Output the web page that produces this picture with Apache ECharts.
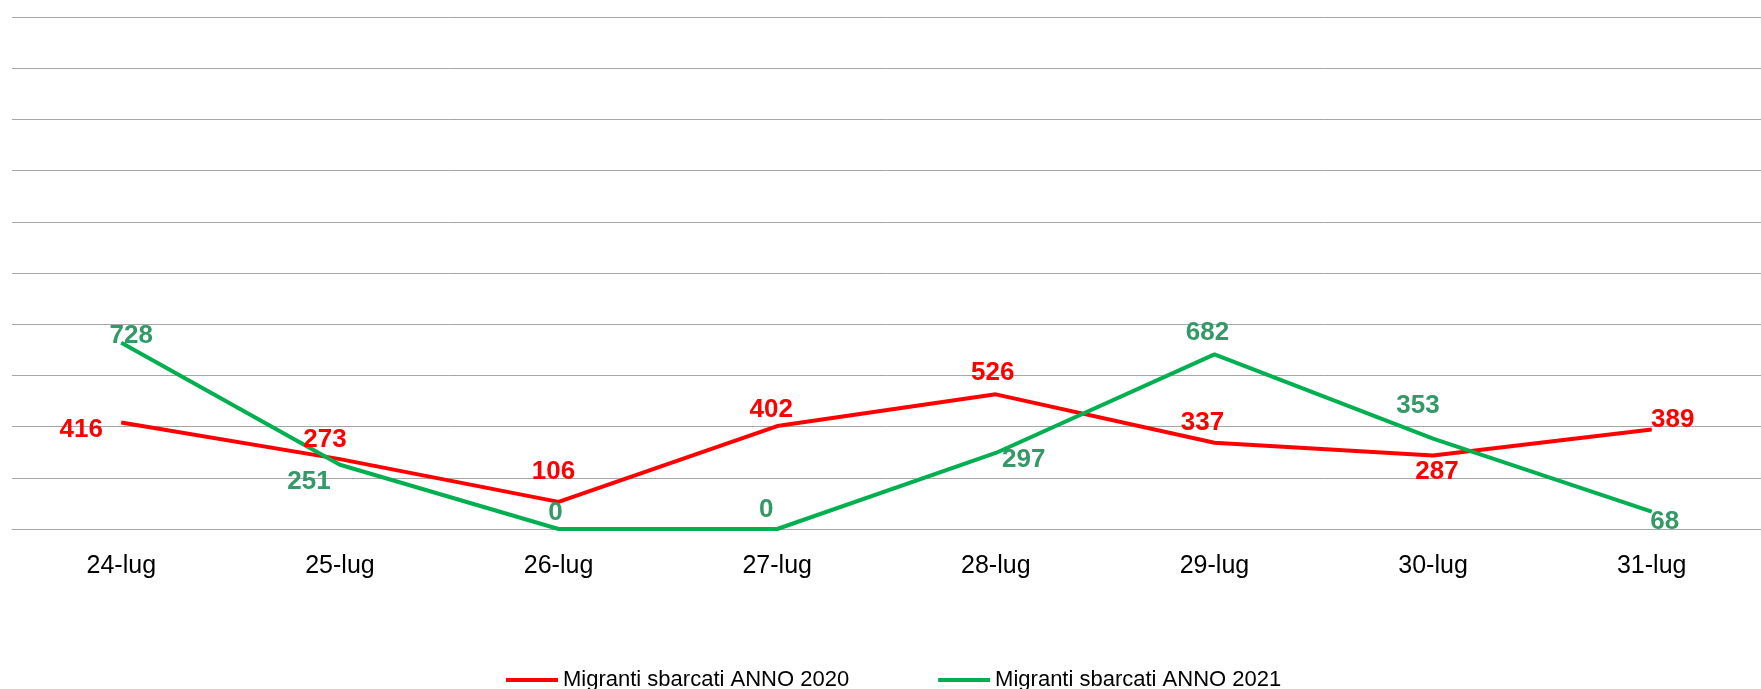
<!DOCTYPE html>
<html>
<head>
<meta charset="utf-8">
<script src="https://cdn.jsdelivr.net/npm/echarts@6/dist/echarts.min.js"></script>
<style>
  html, body { margin: 0; padding: 0; background: #ffffff; }
  #chart { width: 1761px; height: 689px; }
</style>
</head>
<body>
<div id="chart"></div>
<script>
// dati
const days = ['24-lug', '25-lug', '26-lug', '27-lug', '28-lug', '29-lug', '30-lug', '31-lug']
const sbarchi2020 = [416, 273, 106, 402, 526, 337, 287, 389]
const sbarchi2021 = [728, 251, 0, 0, 297, 682, 353, 68]
const nome2020 = 'Migranti sbarcati ANNO 2020'
const nome2021 = 'Migranti sbarcati ANNO 2021'

// spostamento etichette (come nel grafico excel)
const off2020 = [[-40, 7], [-15, -19], [-5, -30], [-6, -16], [-3, -22], [-12, -20], [4, 16], [21, -10]]
const off2021 = [[10, -7], [-31, 17], [-3, -16], [-11, -19], [28, 7], [-7, -22], [-15, -33], [13, 10]]

const font = "'Liberation Sans', Arial, sans-serif"

function punti(values, offsets) {
  return values.map((v, i) => ({ value: v, label: { offset: offsets[i] } }))
}

const chart = echarts.init(document.getElementById('chart'))
chart.setOption({
  animation: false,
  grid: { left: 12, top: 17, width: 1765, height: 512 },
  legend: {
    left: 501,
    top: 664,
    icon: 'rect',
    itemWidth: 52,
    itemHeight: 4,
    itemGap: 89,
    textStyle: { fontFamily: font, fontSize: 22, color: '#000000' },
    data: [nome2020, nome2021]
  },
  xAxis: {
    type: 'category',
    data: days,
    boundaryGap: true,
    axisLine: { show: true, lineStyle: { color: '#A6A6A6', width: 1 } },
    axisTick: { show: false },
    axisLabel: { margin: 25, fontFamily: font, fontSize: 25, color: '#000000' }
  },
  yAxis: {
    type: 'value',
    min: 0,
    max: 2000,
    interval: 200,
    axisLabel: { show: false },
    axisLine: { show: false },
    axisTick: { show: false },
    splitLine: { lineStyle: { color: '#A6A6A6', width: 1 } }
  },
  series: [
    {
      name: nome2020,
      type: 'line',
      data: punti(sbarchi2020, off2020),
      color: '#FF0000',
      symbol: 'circle',
      symbolSize: 1,
      lineStyle: { width: 4, color: '#FF0000' },
      label: {
        show: true,
        position: 'inside',
        fontFamily: font,
        fontSize: 26,
        fontWeight: 'bold',
        color: '#FF0000'
      }
    },
    {
      name: nome2021,
      type: 'line',
      data: punti(sbarchi2021, off2021),
      color: '#00B050',
      symbol: 'circle',
      symbolSize: 1,
      lineStyle: { width: 4, color: '#00B050' },
      label: {
        show: true,
        position: 'inside',
        fontFamily: font,
        fontSize: 26,
        fontWeight: 'bold',
        color: '#339966'
      }
    }
  ]
})
</script>
</body>
</html>
